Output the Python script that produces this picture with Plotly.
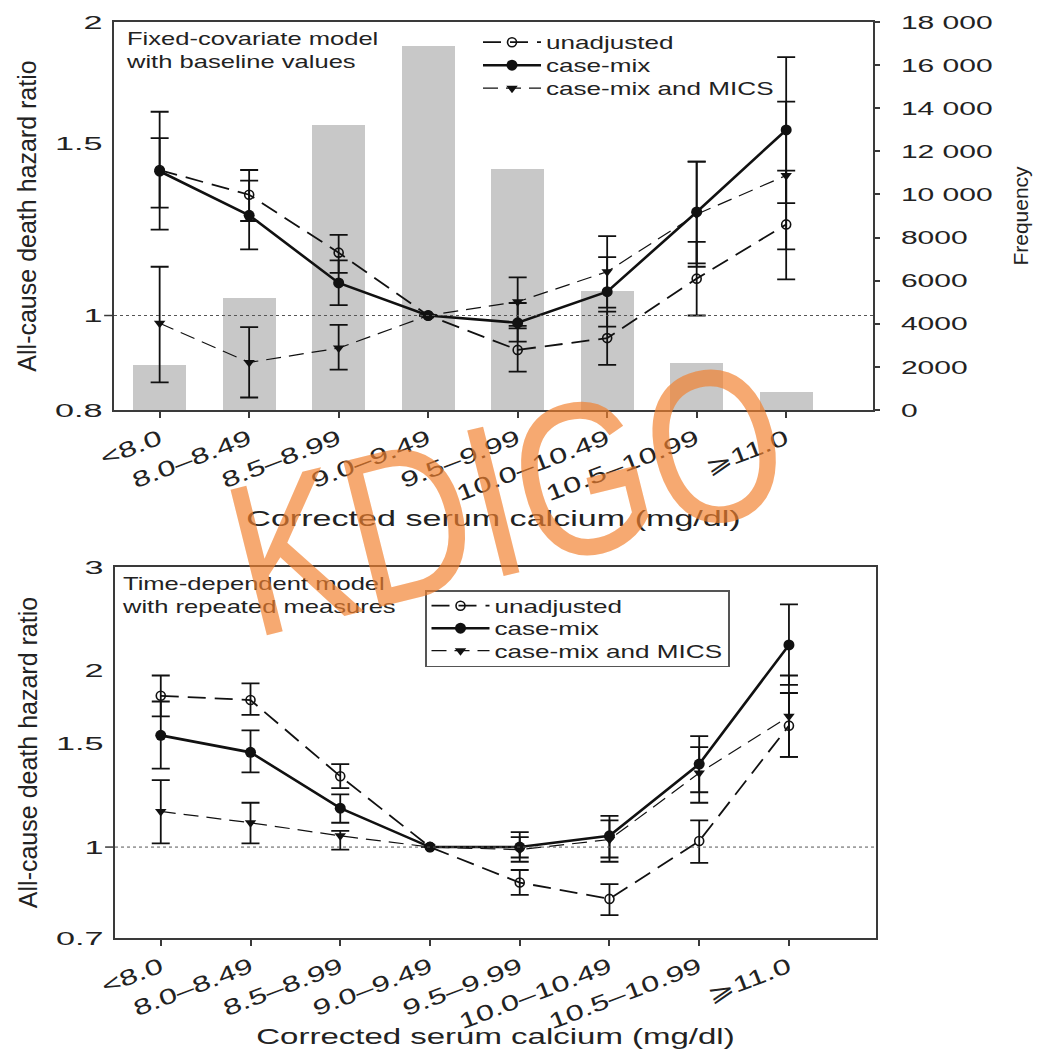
import math
import plotly.graph_objects as go

# ---------------- data ----------------
categories = ["<8.0", "8.0–8.49", "8.5–8.99", "9.0–9.49", "9.5–9.99",
              "10.0–10.49", "10.5–10.99", "⩾11.0"]
frequency = [2100, 5200, 13200, 16900, 11200, 5500, 2200, 850]
freq_ticks = [0, 2000, 4000, 6000, 8000, 10000, 12000, 14000, 16000, 18000]
freq_ticktext = ["0", "2000", "4000", "6000", "8000", "10 000", "12 000",
                 "14 000", "16 000", "18 000"]

series_names = ["unadjusted", "case-mix", "case-mix and MICS"]

# Fixed-covariate model with baseline values (top)
top_unadj = [1.41, 1.33, 1.16, 1.0, 0.922, 0.948, 1.091, 1.24]
top_unadj_lo = [1.29, 1.25, 1.106, None, 0.876, 0.890, 1.0, 1.089]
top_unadj_hi = [1.52, 1.41, 1.21, None, 0.970, 1.009, 1.19, 1.408]
top_case = [1.406, 1.267, 1.080, 1.0, 0.983, 1.058, 1.277, 1.55]
top_case_lo = [1.225, 1.169, 1.025, None, 0.94, 0.974, 1.131, 1.304]
top_case_hi = [1.618, 1.375, 1.139, None, 1.03, 1.148, 1.438, 1.841]
top_mics = [0.982, 0.895, 0.926, 1.0, 1.033, 1.109, 1.27, 1.392]
top_mics_lo = [0.854, 0.824, 0.880, None, 0.976, 1.019, 1.122, 1.169]
top_mics_hi = [1.122, 0.973, 0.978, None, 1.094, 1.206, 1.438, 1.657]

# Time-dependent model with repeated measures (bottom)
bot_unadj = [1.81, 1.78, 1.32, 1.0, 0.87, 0.816, 1.024, 1.61]
bot_unadj_lo = [1.67, 1.68, 1.26, None, 0.829, 0.766, 0.94, 1.425]
bot_unadj_hi = [1.96, 1.90, 1.385, None, 0.914, 0.865, 1.11, 1.83]
bot_case = [1.55, 1.45, 1.165, 1.0, 1.0, 1.045, 1.385, 2.21]
bot_case_lo = [1.36, 1.34, 1.10, None, 0.944, 0.944, 1.24, 1.89]
bot_case_hi = [1.77, 1.58, 1.23, None, 1.06, 1.13, 1.545, 2.59]
bot_mics = [1.15, 1.10, 1.045, 1.0, 0.99, 1.03, 1.337, 1.67]
bot_mics_lo = [1.015, 1.015, 0.99, None, 0.96, 0.96, 1.19, 1.425]
bot_mics_hi = [1.30, 1.19, 1.066, None, 1.04, 1.11, 1.48, 1.96]

top_hr_ticks = [0.8, 1, 1.5, 2]
bot_hr_ticks = [0.7, 1, 1.5, 2, 3]

# ---------------- helpers ----------------
W, H = 1038, 1049
FONT = "Liberation Sans, Arial, sans-serif"
INK = "#111111"


def err_plus(vals, hi):
    return [None if h is None else h - v for v, h in zip(vals, hi)]


def err_minus(vals, lo):
    return [None if l is None else v - l for v, l in zip(vals, lo)]


styles = {
    "unadjusted": dict(line=dict(color=INK, width=1.8, dash="18px,9px"),
                       marker=dict(symbol="circle-open", size=9, color=INK,
                                   line=dict(width=1.6, color=INK))),
    "case-mix": dict(line=dict(color=INK, width=2.6),
                     marker=dict(symbol="circle", size=11, color=INK)),
    "case-mix and MICS": dict(line=dict(color=INK, width=1.2, dash="15px,8px"),
                              marker=dict(symbol="triangle-down", size=10, color=INK)),
}

fig = go.Figure()

# frequency bars (top panel, primary y = frequency axis on the right)
fig.add_trace(go.Bar(x=categories, y=frequency, width=0.59,
                     marker=dict(color="#c8c8c8", line=dict(width=0)),
                     xaxis="x", yaxis="y", showlegend=False, name="Frequency"))

top_sets = [(top_unadj, top_unadj_lo, top_unadj_hi),
            (top_case, top_case_lo, top_case_hi),
            (top_mics, top_mics_lo, top_mics_hi)]
bot_sets = [(bot_unadj, bot_unadj_lo, bot_unadj_hi),
            (bot_case, bot_case_lo, bot_case_hi),
            (bot_mics, bot_mics_lo, bot_mics_hi)]
draw_order = [0, 2, 1]  # case-mix drawn on top
rank = {0: 1, 1: 2, 2: 3}

for i in draw_order:
    name = series_names[i]
    vals, lo, hi = top_sets[i]
    fig.add_trace(go.Scatter(
        x=categories, y=vals, name=name, mode="lines+markers",
        xaxis="x", yaxis="y2", legend="legend", legendrank=rank[i],
        error_y=dict(type="data", symmetric=False, array=err_plus(vals, hi),
                     arrayminus=err_minus(vals, lo), color=INK, thickness=1.8, width=9),
        **styles[name]))
for i in draw_order:
    name = series_names[i]
    vals, lo, hi = bot_sets[i]
    fig.add_trace(go.Scatter(
        x=categories, y=vals, name=name, mode="lines+markers",
        xaxis="x2", yaxis="y3", legend="legend2", legendrank=rank[i],
        error_y=dict(type="data", symmetric=False, array=err_plus(vals, hi),
                     arrayminus=err_minus(vals, lo), color=INK, thickness=1.8, width=9),
        **styles[name]))

FRAME = "#3a3a3a"
tickfont = dict(family=FONT, size=19, color="#222")
xtickfont = dict(family=FONT, size=22, color="#222")
xcommon = dict(type="category", range=[-0.51, 7.97], showline=True, mirror=True,
               linecolor=FRAME, linewidth=1.5, ticks="outside", ticklen=6,
               tickcolor=FRAME, tickwidth=1.5, tickangle=-21, tickfont=xtickfont,
               showgrid=False, zeroline=False, automargin=False)

fig.update_layout(
    width=W, height=H, margin=dict(l=0, r=0, t=0, b=0),
    paper_bgcolor="white", plot_bgcolor="white",
    font=dict(family=FONT, color="#222"),
    bargap=0,
    xaxis=dict(domain=[114 / W, 873 / W], anchor="y",
               title=dict(text="Corrected serum calcium (mg/dl)",
                          font=dict(size=22, family=FONT), standoff=24), **xcommon),
    yaxis=dict(domain=[1 - 410 / H, 1 - 22 / H], anchor="x", side="right",
               range=[0, 18000], tickvals=freq_ticks, ticktext=freq_ticktext,
               ticks="outside", ticklen=5, tickcolor=FRAME, tickwidth=1.5,
               ticklabelstandoff=17,
               showline=True, linecolor=FRAME, linewidth=2.2, tickfont=tickfont,
               showgrid=False, zeroline=False, automargin=False,
               title=dict(text="Frequency", font=dict(size=21, family=FONT), standoff=55)),
    yaxis2=dict(overlaying="y", anchor="x", side="left", type="log",
                range=[math.log10(0.8), math.log10(2)], tickvals=top_hr_ticks,
                ticktext=[str(t) for t in top_hr_ticks], ticks="",
                ticklabelstandoff=6,
                showline=True, linecolor=FRAME, linewidth=1.5, tickfont=tickfont,
                showgrid=False, zeroline=False, automargin=False,
                title=dict(text="All-cause death hazard ratio",
                           font=dict(size=25, family=FONT), standoff=32)),
    xaxis2=dict(domain=[115 / W, 876 / W], anchor="y3",
                title=dict(text="Corrected serum calcium (mg/dl)",
                           font=dict(size=22, family=FONT), standoff=18), **xcommon),
    yaxis3=dict(domain=[1 - 938 / H, 1 - 567 / H], anchor="x2", type="log",
                range=[math.log10(0.7), math.log10(3)], tickvals=bot_hr_ticks,
                ticktext=[str(t) for t in bot_hr_ticks], ticks="",
                ticklabelstandoff=6,
                showline=True, mirror=True, linecolor=FRAME, linewidth=1.5,
                tickfont=tickfont, showgrid=False, zeroline=False, automargin=False,
                title=dict(text="All-cause death hazard ratio",
                           font=dict(size=25, family=FONT), standoff=32)),
    legend=dict(x=478 / W, y=1 - 24 / H, xanchor="left", yanchor="top",
                bgcolor="rgba(0,0,0,0)", borderwidth=0, itemwidth=58,
                font=dict(size=18, family=FONT, color="#222"), tracegroupgap=0),
    legend2=dict(x=425 / W, y=1 - 590 / H, xanchor="left", yanchor="top",
                 bgcolor="white", bordercolor="#555", borderwidth=1.5, itemwidth=58,
                 font=dict(size=18, family=FONT, color="#222"), tracegroupgap=0),
)

# reference line at HR = 1 (dotted) with a small solid tick on the left axis
for xr, yr in (("x domain", "y2"), ("x2 domain", "y3")):
    fig.add_shape(type="line", xref=xr, yref=yr, x0=0, x1=1, y0=1, y1=1,
                  line=dict(color="#555", width=1, dash="dot"))
    fig.add_shape(type="line", xref=xr, yref=yr, x0=-0.013, x1=0, y0=1, y1=1,
                  line=dict(color=FRAME, width=1.5))

fig.add_annotation(text="Fixed-covariate model<br>with baseline values",
                   xref="paper", yref="paper", x=124 / W, y=1 - 27 / H,
                   xanchor="left", yanchor="top", align="left", showarrow=False,
                   font=dict(size=18, family=FONT, color="#222"))
fig.add_annotation(text="Time-dependent model<br>with repeated measures",
                   xref="paper", yref="paper", x=120 / W, y=1 - 572 / H,
                   xanchor="left", yanchor="top", align="left", showarrow=False,
                   font=dict(size=18, family=FONT, color="#222"))
# watermark
fig.add_annotation(text="KDIGO", xref="paper", yref="paper",
                   x=507 / W, y=1 - 497 / H, xanchor="center", yanchor="middle",
                   showarrow=False, textangle=-14,
                   font=dict(size=218, family=FONT, color="rgba(242,128,45,0.68)"))

post_script = r"""
var gd = document.getElementById('{plot_id}');
var specs = [['.xtick text',1.47],['.x2tick text',1.47],['.ytick text',1.58],
             ['.y2tick text',1.8],['.y3tick text',1.8],
             ['.g-xtitle text',1.55],['.g-x2title text',1.5],
             ['.annotation-text',1.42]];
function num(el, a){ return parseFloat(el.getAttribute(a)) || 0; }
function stretchOne(t, k){
  var tr = t.getAttribute('transform') || '';
  var tag = ' scale(' + k + ',1) ';
  if (tr.indexOf(tag) >= 0) return;
  var x = num(t, 'x'), y = num(t, 'y');
  var w = 0; try { w = t.getBBox().width; } catch(e) {}
  if (!w) { try { w = t.getComputedTextLength(); } catch(e) {} }
  t.setAttribute('data-w', w);
  t.setAttribute('data-k', k);
  t.setAttribute('transform', tr + ' translate(' + x + ',' + y + ')' + tag + 'translate(' + (-x) + ',' + (-y) + ')');
}
function stretchTexts(){
  specs.forEach(function(s){
    document.querySelectorAll(s[0]).forEach(function(t){
      var k = s[1];
      if (t.textContent.indexOf('KDIGO') >= 0) k = 0.8;
      stretchOne(t, k);
    });
  });
}
function clipRect(g){
  var sb = g.querySelector('g.scrollbox');
  if (!sb) return null;
  var cp = sb.getAttribute('clip-path') || '';
  var m = cp.match(/#([^)"'\s]+)/);
  if (!m) return null;
  return document.querySelector('#' + m[1] + ' rect');
}
function fixLegend(g, spacing, shift, k){
  var bg = g.querySelector('rect.bg');
  var cr = clipRect(g);
  var items = Array.prototype.slice.call(g.querySelectorAll('g.traces'));
  if (!items.length) return;
  var done = items[0].getAttribute('data-done') === (items[0].getAttribute('transform') || '');
  if (done) return;
  var extra = 0;
  items.forEach(function(it){
    it.querySelectorAll('text').forEach(function(t){
      stretchOne(t, k);
      var w = parseFloat(t.getAttribute('data-w')) || 0;
      extra = Math.max(extra, w * (k - 1));
    });
  });
  var pos = items.map(function(it){
    var m = /translate\(\s*([-\d.e]+)[ ,]+([-\d.e]+)/.exec(it.getAttribute('transform') || '');
    return m ? [parseFloat(m[1]), parseFloat(m[2])] : [0, 0];
  });
  var order = items.map(function(_, i){ return i; }).sort(function(a, b){ return pos[a][1] - pos[b][1]; });
  var dh = 0;
  if (items.length > 1) {
    var y0 = pos[order[0]][1];
    var s = (pos[order[order.length - 1]][1] - y0) / (items.length - 1);
    order.forEach(function(idx, j){
      var tr = 'translate(' + pos[idx][0] + ',' + (y0 - shift + j * spacing) + ')';
      items[idx].setAttribute('transform', tr);
      items[idx].setAttribute('data-done', tr);
    });
    dh = items.length * (s - spacing) + shift;
  }
  [bg, cr].forEach(function(r){
    if (!r) return;
    r.setAttribute('width', num(r, 'width') + extra);
    r.setAttribute('height', num(r, 'height') - dh);
  });
}
function runAll(){
  stretchTexts();
  var legs = Array.prototype.slice.call(document.querySelectorAll('g.infolayer > g'))
    .filter(function(g){ return g.querySelector('g.traces'); });
  legs.forEach(function(g){
    var isBottom = /legend2/.test(g.getAttribute('class') || '');
    fixLegend(g, isBottom ? 22.5 : 23, isBottom ? 4 : 0, 1.45);
  });
}
runAll();
if (gd.on) gd.on('plotly_afterplot', function(){ setTimeout(runAll, 0); });
setTimeout(runAll, 50);
setTimeout(runAll, 300);
setTimeout(runAll, 1000);
"""

fig.write_html("out.html", post_script=post_script, config=dict(displayModeBar=False))
